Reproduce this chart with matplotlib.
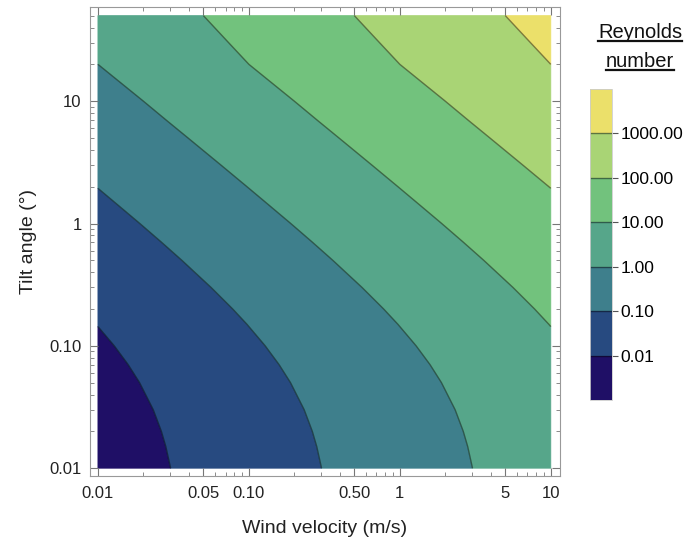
import numpy as np
import matplotlib
matplotlib.use('Agg')
import matplotlib.pyplot as plt
from matplotlib.colors import ListedColormap
from matplotlib.lines import Line2D

plt.rcParams['font.family'] = ['Liberation Sans', 'DejaVu Sans']

# values
velocity = [0.01, 0.02, 0.05, 0.1, 0.2, 0.5, 1, 2, 5, 10]           # m/s
tilt = [0.01, 0.015, 0.02, 0.03, 0.05, 0.07, 0.1, 0.15, 0.2, 0.3, 0.5, 0.7,
        1, 1.5, 2, 3, 5, 7, 10, 15, 20, 30, 50]                       # deg
re_per_velocity = [0.33, 0.355, 0.38, 0.43, 0.53, 0.63, 0.78, 1.03, 1.28, 1.78,
                   2.78, 3.78, 5.28, 7.8, 10.3, 15.3, 25.3, 35.3, 50, 75,
                   100, 136, 200]                                     # Re / v at each tilt
levels_re = [0.01, 0.1, 1, 10, 100, 1000]
level_labels = ['0.01', '0.10', '1.00', '10.00', '100.00', '1000.00']
band_colors = ['#1f0f66', '#274a80', '#3e7f8c', '#56a68a',
               '#72c27d', '#a9d475', '#ebe06a']
xtick_vals = [0.01, 0.05, 0.1, 0.5, 1, 5, 10]
xtick_labels = ['0.01', '0.05', '0.10', '0.50', '1', '5', '10']
ytick_vals = [0.01, 0.1, 1, 10]
ytick_labels = ['0.01', '0.10', '1', '10']

re = np.outer(re_per_velocity, velocity)
lx, ly, lz = np.log10(velocity), np.log10(tilt), np.log10(re)
lev = np.log10(levels_re)
fill_levels = np.concatenate([[-3.5], lev, [4.5]])
cmap = ListedColormap(band_colors)

fig = plt.figure(figsize=(6.92, 5.46), dpi=100)
ax = fig.add_axes([0.130, 0.128, 0.679, 0.859])
cf = ax.contourf(lx, ly, lz, levels=fill_levels, cmap=cmap, antialiased=True)
cf.set_edgecolor('face')
cf.set_linewidth(0.6)
cl = ax.contour(lx, ly, lz, levels=lev, colors='black', alpha=0.45,
                linewidths=1.0, linestyles='solid')

ax.set_xlim(-2.053, 1.06)
ax.set_ylim(-2.065, 1.769)

def minor_positions(lo, hi):
    out = []
    for d in range(lo, hi):
        for m in range(2, 10):
            out.append(np.log10(m * 10.0 ** d))
    return out

ax.set_xticks(np.log10(xtick_vals))
ax.set_xticklabels(xtick_labels)
ax.set_xticks(minor_positions(-2, 1), minor=True)
ax.set_yticks(np.log10(ytick_vals))
ax.set_yticklabels(ytick_labels)
ax.set_yticks([p for p in minor_positions(-2, 2) if p <= 1.72], minor=True)
ax.tick_params(which='both', direction='in', top=True, right=True,
               color='#777777', labelsize=12, labelcolor='#222222')
ax.tick_params(axis='x', which='major', pad=7)
ax.tick_params(axis='y', which='major', pad=6)
ax.tick_params(which='major', length=6, width=0.8)
ax.tick_params(which='minor', length=3, width=0.6)
for s in ax.spines.values():
    s.set_color('#999999')
    s.set_linewidth(0.8)

ax.set_xlabel('Wind velocity (m/s)', fontsize=14, color='#222222', labelpad=14)
ax.set_ylabel('Tilt angle (°)', fontsize=14, color='#222222', labelpad=9)

cax = fig.add_axes([0.8526, 0.2674, 0.0318, 0.5696])
cb = fig.colorbar(cf, cax=cax, ticks=lev)
cb.ax.set_yticklabels(level_labels)
cb.add_lines(cl)
cb.ax.tick_params(length=4, width=0.8, color='#555555', labelsize=12.5, pad=2)
cb.outline.set_edgecolor('#cccccc')
cb.outline.set_linewidth(0.6)

# underlined title over the colour bar
t1 = fig.text(0.925, 0.940, 'Reynolds', ha='center', va='center', fontsize=14.5, color='#111111')
t2 = fig.text(0.925, 0.888, 'number', ha='center', va='center', fontsize=14.5, color='#111111')
fig.canvas.draw()
inv = fig.transFigure.inverted()
for t in (t1, t2):
    bb = t.get_window_extent()
    (x0, y0), (x1, _) = inv.transform([[bb.x0, bb.y0 + 1], [bb.x1, bb.y0]])
    fig.add_artist(Line2D([x0, x1], [y0, y0], transform=fig.transFigure,
                          color='#111111', linewidth=1.6))

plt.savefig('out.png', dpi=100)
